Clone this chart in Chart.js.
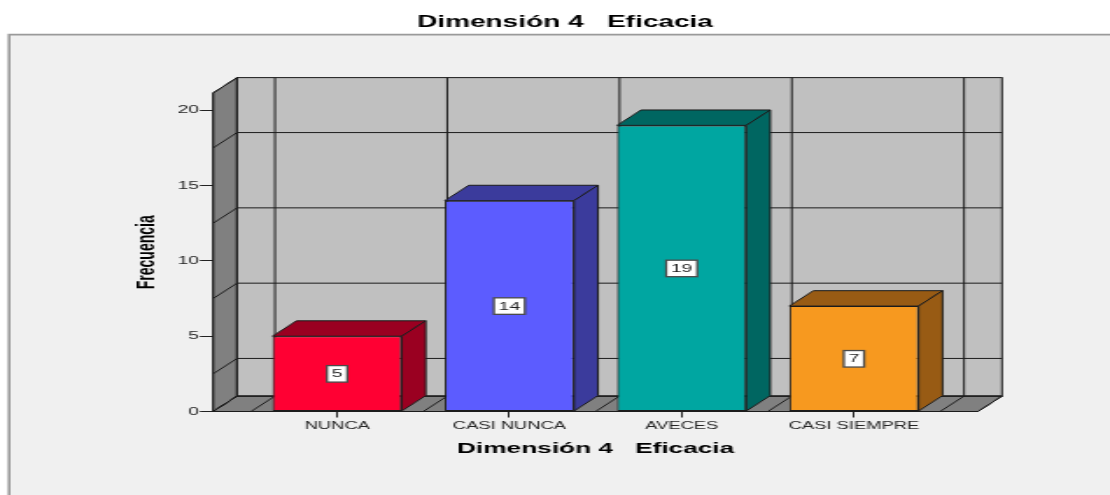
<!DOCTYPE html>
<html>
<head>
<meta charset="utf-8">
<title>Dimensión 4 Eficacia</title>
<script src="https://cdn.jsdelivr.net/npm/chart.js@4.4.1/dist/chart.umd.min.js"></script>
<style>
  html, body { margin: 0; padding: 0; background: #ffffff; }
  canvas { display: block; }
</style>
</head>
<body>
<!-- drawn on a narrower backing canvas and widened by CSS, giving the wide lettering of the exported chart -->
<canvas id="chart" width="634" height="495" style="width:1110px;height:495px"></canvas>
<script>
// ---- data ----
const categories = ['NUNCA', 'CASI NUNCA', 'AVECES', 'CASI SIEMPRE'];
const frequencies = [5, 14, 19, 7];
const yTickValues = [0, 5, 10, 15, 20];

// ---- styling ----
const frontColors = ['#FF0033', '#5C5CFF', '#00A6A1', '#F7991F'];
const shadeColors = ['#9A0021', '#3B3B9C', '#006661', '#985B14'];
const FONT = "'Liberation Sans', Arial, Helvetica, sans-serif";
const DEPTH_X = 13.7;     // 3D depth, horizontal
const DEPTH_Y = -15.4;    // 3D depth, vertical
const LINE = '#1c1c1c';
const TICK_TEXT = '#262626';

function polygon(ctx, pts, fill) {
  ctx.beginPath();
  ctx.moveTo(pts[0][0], pts[0][1]);
  for (let k = 1; k < pts.length; k++) ctx.lineTo(pts[k][0], pts[k][1]);
  ctx.closePath();
  if (fill) { ctx.fillStyle = fill; ctx.fill(); }
  ctx.stroke();
}

function line(ctx, pts) {
  ctx.beginPath();
  ctx.moveTo(pts[0][0], pts[0][1]);
  for (let k = 1; k < pts.length; k++) ctx.lineTo(pts[k][0], pts[k][1]);
  ctx.stroke();
}

// page background, framed panel and heading
const panel = {
  id: 'panel',
  beforeDraw(chart) {
    const ctx = chart.ctx;
    ctx.save();
    ctx.fillStyle = '#ffffff';
    ctx.fillRect(0, 0, chart.width, chart.height);
    ctx.fillStyle = '#F0F0F0';
    ctx.fillRect(4.6, 34, chart.width, chart.height);
    ctx.strokeStyle = '#9a9a9a';
    ctx.lineWidth = 1.6;
    ctx.beginPath();
    ctx.moveTo(5.2, chart.height + 5);
    ctx.lineTo(5.2, 34.6);
    ctx.lineTo(chart.width + 5, 34.6);
    ctx.stroke();
    ctx.restore();
  },
  afterDraw(chart) {
    const ctx = chart.ctx;
    ctx.save();
    ctx.font = 'bold 16px ' + FONT;
    ctx.fillStyle = '#000000';
    ctx.textAlign = 'center';
    ctx.textBaseline = 'middle';
    ctx.fillText('Dimensión 4   Eficacia', 322.7, 23);
    ctx.restore();
  }
};

// back wall, side wall and floor of the 3D box, with their grid lines
const walls = {
  id: 'walls',
  beforeDatasetsDraw(chart) {
    const { ctx, chartArea: a, scales: { x, y } } = chart;
    const dx = DEPTH_X, dy = DEPTH_Y;
    const xl = a.left, xr = a.right, yt = a.top, yb = y.getPixelForValue(0);
    ctx.save();
    ctx.lineWidth = 1;
    ctx.strokeStyle = LINE;

    ctx.fillStyle = '#C0C0C0';
    ctx.fillRect(xl + dx, yt + dy, xr - xl, yb - yt);
    polygon(ctx, [[xl, yt], [xl + dx, yt + dy], [xl + dx, yb + dy], [xl, yb]], '#808080');
    polygon(ctx, [[xl, yb], [xr, yb], [xr + dx, yb + dy], [xl + dx, yb + dy]], '#808080');

    // horizontal lines halfway between value ticks
    for (let k = 0; k < yTickValues.length - 1; k++) {
      const py = y.getPixelForValue((yTickValues[k] + yTickValues[k + 1]) / 2);
      line(ctx, [[xl, py], [xl + dx, py + dy], [xr + dx, py + dy]]);
    }
    // vertical lines at category boundaries
    for (let k = 0; k <= categories.length; k++) {
      const px = x.getPixelForValue(k - 0.5);
      line(ctx, [[px, yb], [px + dx, yb + dy], [px + dx, yt + dy]]);
    }
    ctx.strokeRect(xl + dx, yt + dy, xr - xl, yb - yt);
    polygon(ctx, [[xl, yt], [xl + dx, yt + dy], [xl + dx, yb + dy], [xl, yb]], null);
    polygon(ctx, [[xl, yb], [xr, yb], [xr + dx, yb + dy], [xl + dx, yb + dy]], null);
    ctx.restore();
  }
};

// top and side faces of each bar, plus the boxed value labels
const prisms = {
  id: 'prisms',
  afterDatasetsDraw(chart) {
    const { ctx, scales: { y } } = chart;
    const dx = DEPTH_X, dy = DEPTH_Y;
    const meta = chart.getDatasetMeta(0);
    ctx.save();
    ctx.lineWidth = 1;
    ctx.strokeStyle = LINE;
    meta.data.forEach((bar, i) => {
      const p = bar.getProps(['x', 'y', 'base', 'width'], true);
      const l = p.x - p.width / 2, r = p.x + p.width / 2;
      polygon(ctx, [[l, p.y], [l + dx, p.y + dy], [r + dx, p.y + dy], [r, p.y]], shadeColors[i]);
      polygon(ctx, [[r, p.y], [r + dx, p.y + dy], [r + dx, p.base + dy], [r, p.base]], shadeColors[i]);
    });
    ctx.font = '11px ' + FONT;
    ctx.textAlign = 'center';
    ctx.textBaseline = 'middle';
    meta.data.forEach((bar, i) => {
      const v = frequencies[i];
      const cy = y.getPixelForValue(v / 2);
      const txt = String(v);
      const w = ctx.measureText(txt).width + 5.5;
      const h = 16.5;
      ctx.fillStyle = '#ffffff';
      ctx.fillRect(bar.x - w / 2, cy - h / 2, w, h);
      ctx.strokeStyle = '#4a4a4a';
      ctx.lineWidth = 1.3;
      ctx.strokeRect(bar.x - w / 2, cy - h / 2, w, h);
      ctx.fillStyle = '#1e1e1e';
      ctx.fillText(txt, bar.x, cy + 0.5);
    });
    ctx.restore();
  }
};

new Chart(document.getElementById('chart'), {
  type: 'bar',
  data: {
    datasets: [{
      data: frequencies.map((v, i) => ({ x: i, y: v })),
      backgroundColor: frontColors,
      borderColor: LINE,
      borderWidth: 1,
      borderSkipped: false,
      barPercentage: 0.75,
      categoryPercentage: 1
    }]
  },
  options: {
    responsive: false,
    animation: false,
    events: [],
    layout: { padding: { top: 93, left: 0, right: 75.4, bottom: 0 } },
    plugins: {
      legend: { display: false },
      tooltip: { enabled: false },
      title: { display: false }
    },
    scales: {
      x: {
        type: 'linear',
        min: -0.72,
        max: 3.72,
        offset: false,
        afterBuildTicks(scale) { scale.ticks = categories.map((_, i) => ({ value: i })); },
        afterFit(scale) { scale.height = 83.5; },
        grid: { display: true, offset: false, drawOnChartArea: false, drawTicks: true, tickLength: 6, tickColor: '#222222', tickWidth: 1 },
        border: { display: false },
        ticks: {
          autoSkip: false,
          maxRotation: 0,
          padding: 2,
          color: TICK_TEXT,
          font: { family: FONT, size: 10.5 },
          callback: (v) => categories[v] ?? ''
        },
        title: {
          display: true,
          text: 'Dimensión 4   Eficacia',
          color: '#000000',
          font: { family: FONT, size: 15, weight: 'bold' },
          padding: { top: 0, bottom: 37 }
        }
      },
      y: {
        type: 'linear',
        min: 0,
        max: 21.15,
        afterBuildTicks(scale) { scale.ticks = yTickValues.map(v => ({ value: v })); },
        afterFit(scale) { scale.width = 121.7; },
        grid: { display: true, drawOnChartArea: false, drawTicks: true, tickLength: 7.5, tickColor: '#222222', tickWidth: 1 },
        border: { display: false },
        ticks: {
          padding: 0.5,
          color: TICK_TEXT,
          font: { family: FONT, size: 11 }
        },
        title: {
          display: true,
          text: 'Frecuencia',
          color: '#000000',
          font: { family: FONT, size: 14, weight: 'bold' },
          padding: { top: 75.3, bottom: 0 }
        }
      }
    }
  },
  plugins: [panel, walls, prisms]
});
</script>
</body>
</html>
